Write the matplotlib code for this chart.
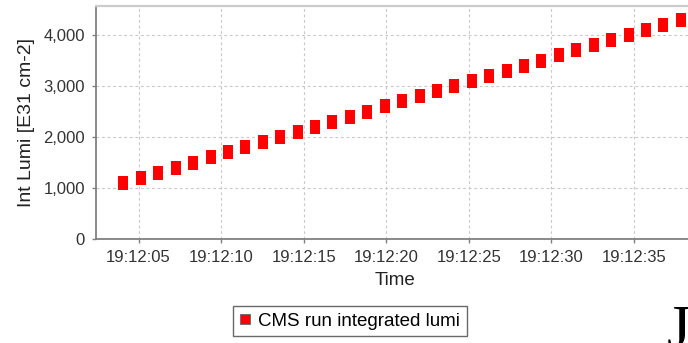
import matplotlib
matplotlib.use('Agg')
import matplotlib.pyplot as plt
import matplotlib.dates as mdates
from matplotlib.lines import Line2D
import pandas as pd

# Integrated luminosity samples for the run
times = ['19:12:04.08', '19:12:05.14', '19:12:06.19', '19:12:07.25', '19:12:08.30',
         '19:12:09.36', '19:12:10.41', '19:12:11.47', '19:12:12.52', '19:12:13.58',
         '19:12:14.63', '19:12:15.69', '19:12:16.74', '19:12:17.80', '19:12:18.85',
         '19:12:19.91', '19:12:20.96', '19:12:22.02', '19:12:23.07', '19:12:24.13',
         '19:12:25.18', '19:12:26.24', '19:12:27.29', '19:12:28.35', '19:12:29.40',
         '19:12:30.46', '19:12:31.51', '19:12:32.57', '19:12:33.62', '19:12:34.68',
         '19:12:35.73', '19:12:36.79', '19:12:37.84']
int_lumi = [1100, 1200, 1300, 1400, 1500, 1600, 1700, 1800, 1900, 2000,
            2100, 2200, 2300, 2400, 2500, 2600, 2700, 2800, 2900, 3000,
            3100, 3200, 3300, 3400, 3500, 3600, 3700, 3800, 3900, 4000,
            4100, 4200, 4300]
y_ticks = [0, 1000, 2000, 3000, 4000]
series_name = 'CMS run integrated lumi'

plt.rcParams['font.family'] = ['Liberation Sans', 'DejaVu Sans']

t = pd.to_datetime(['2010-01-01 ' + s for s in times])

fig = plt.figure(figsize=(6.88, 3.43), dpi=100)
ax = fig.add_axes([96 / 688, 1 - 239 / 343, 1 - 96 / 688 + 0.01, 233 / 343])

# tall rectangular marker like the original java chart
rect = [(-0.72, -1), (0.72, -1), (0.72, 1), (-0.72, 1), (-0.72, -1)]
ax.plot(t, int_lumi, linestyle='none', marker=rect, markersize=10,
        color='#ff0000', markeredgewidth=0)

ax.set_ylim(0, 4570)
ax.set_yticks(y_ticks)
ax.yaxis.set_major_formatter(matplotlib.ticker.StrMethodFormatter('{x:,.0f}'))
ax.set_xlim(pd.Timestamp('2010-01-01 19:12:02.42'), pd.Timestamp('2010-01-01 19:12:38.70'))
ax.xaxis.set_major_locator(mdates.SecondLocator(bysecond=range(0, 60, 5)))
ax.xaxis.set_major_formatter(mdates.DateFormatter('%H:%M:%S'))

ax.grid(True, color='#c8c8c8', linestyle=(0, (2.5, 2.5)), linewidth=0.8)
ax.set_axisbelow(True)
for side in ['left', 'bottom']:
    ax.spines[side].set_color('#808080')
    ax.spines[side].set_linewidth(1.3)
ax.spines['top'].set_color('#cccccc')
ax.spines['top'].set_linewidth(1.6)
ax.spines['right'].set_visible(False)

ax.tick_params(axis='both', colors='#808080', labelcolor='#333333', labelsize=12,
               length=3, width=1, pad=5)

ax.set_ylabel('Int Lumi [E31 cm-2]', fontsize=14, color='#222222', labelpad=6)
ax.set_xlabel('Time', fontsize=13.5, color='#222222', labelpad=5)

# square swatch in the legend
handle = Line2D([], [], linestyle='none', marker='s', markersize=6.5,
                color='#ff0000', markeredgecolor='#666666', markeredgewidth=0.6)
leg = fig.legend(handles=[handle], labels=[series_name], loc='upper left',
                 bbox_to_anchor=(233 / 688, 1 - 306 / 343), fontsize=13.5,
                 frameon=True, fancybox=False, edgecolor='#444444',
                 handlelength=0.6, handletextpad=0.4, borderpad=0.35,
                 borderaxespad=0)
leg.get_frame().set_linewidth(1)

fig.text(667 / 688, 1 - 304 / 343, 'J', fontsize=44, family='Liberation Serif',
         color='black', ha='left', va='top')

fig.savefig('out.png', dpi=100)
